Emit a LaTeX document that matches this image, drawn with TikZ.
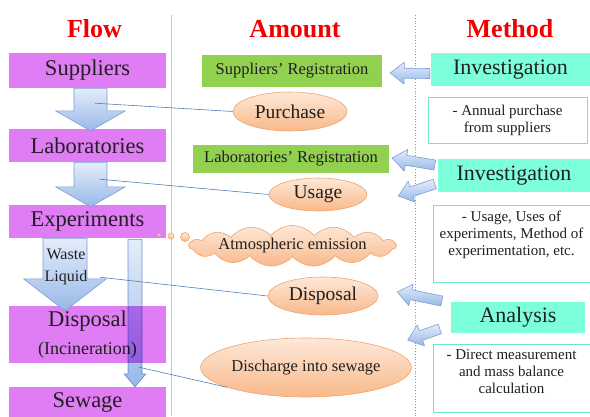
\documentclass[tikz,border=0pt]{standalone}
\usepackage{fontspec}
\IfFontExistsTF{LiberationSerif-Regular.ttf}
  {\setmainfont{LiberationSerif}[Extension=.ttf, UprightFont=*-Regular, BoldFont=*-Bold, ItalicFont=*-Italic]}
  {\setmainfont{DejaVu Serif}}
\usetikzlibrary{calc,positioning,shapes.geometric,shapes.symbols}
\definecolor{fwFlow}{HTML}{E07CF4}
\definecolor{fwReg}{HTML}{92D050}
\definecolor{fwMethod}{HTML}{7DFFDC}
\definecolor{fwDescLine}{HTML}{6EE8C4}
\definecolor{fwOvalTop}{HTML}{FDE8D8}
\definecolor{fwOvalBot}{HTML}{F8B98A}
\definecolor{fwOvalLine}{HTML}{F0A46C}
\definecolor{fwArrTop}{HTML}{E4EDFA}
\definecolor{fwArrBot}{HTML}{98B8E8}
\definecolor{fwArrLine}{HTML}{7C9ED2}
\definecolor{fwLink}{HTML}{4F7FB8}
\definecolor{fwTitle}{HTML}{F00000}
\definecolor{fwRule}{HTML}{BCC8D8}
\definecolor{fwText}{HTML}{202020}
\newcommand\fsTitle{\fontsize{26}{28}\selectfont\bfseries}
\newcommand\fsFlow{\fontsize{22.5}{24}\selectfont}
\newcommand\fsSub{\fontsize{18}{20}\selectfont}
\newcommand\fsReg{\fontsize{16.5}{18}\selectfont}
\newcommand\fsOval{\fontsize{19.5}{21}\selectfont}
\newcommand\fsMethod{\fontsize{22}{24}\selectfont}
\newcommand\fsDesc{\fontsize{15}{17}\selectfont}
\newcommand\fsWaste{\fontsize{16}{22}\selectfont}
\tikzset{
  coltitle/.style={anchor=base, font=\fsTitle, text=fwTitle, inner sep=0pt},
  colrule/.style={draw=fwRule, line width=0.8pt},
  fwnode/.style={rectangle, inner sep=0pt, align=center, text=fwText},
  flowbox/.style={fwnode, fill=fwFlow, minimum width=157pt, minimum height=33pt, font=\fsFlow},
  regbox/.style={fwnode, fill=fwReg, font=\fsReg},
  methodbox/.style={fwnode, fill=fwMethod, minimum height=33pt, font=\fsMethod},
  descbox/.style={fwnode, draw=fwDescLine, fill=white, line width=0.8pt, font=\fsDesc},
  amountoval/.style={ellipse, inner sep=0pt, draw=fwOvalLine, line width=0.6pt,
    top color=fwOvalTop, bottom color=fwOvalBot, text=fwText, font=\fsOval},
  amountcloud/.style={amountoval, cloud, cloud puffs=15, cloud puff arc=100,
    cloud ignores aspect, minimum width=206pt, minimum height=41pt, font=\fsReg},
  blockarrow/.style={draw=fwArrLine, line width=0.6pt, line join=round,
    top color=fwArrTop, bottom color=fwArrBot},
  linkline/.style={draw=fwLink, line width=0.6pt},
  arrowtext/.style={fwnode, font=\fsWaste}
}
\newcommand\bkarrow[6][]{%
  \coordinate (bk-h) at ($(#3)!#6!(#2)$);
  \draw[blockarrow,#1] ($(#2)!#4!90:(#3)$) -- ($(bk-h)!#4!90:(#3)$)
    -- ($(bk-h)!#5!90:(#3)$) -- (#3) -- ($(bk-h)!#5!-90:(#3)$)
    -- ($(bk-h)!#4!-90:(#3)$) -- ($(#2)!#4!-90:(#3)$) -- cycle;}
\begin{document}
\begin{tikzpicture}[x=1pt,y=-1pt]
  \useasboundingbox (0,0) rectangle (590,416);
  \node[coltitle] (tflow) at (94.5,37) {Flow};
  \node[coltitle] (tamount) at (295,37) {Amount};
  \node[coltitle] (tmethod) at (510,37) {Method};
  \draw[colrule] (171,15) -- (171,416);
  \draw[colrule, draw=black!40, dotted] (415,15) -- (415,416);

  \node[flowbox, minimum height=35pt] (sup) at (87.5,70.5) {Suppliers};
  \node[flowbox] (lab) at (87.5,145.5) {Laboratories};
  \node[flowbox] (exp) at (87.5,221.5) {Experiments};
  \node[flowbox, minimum height=57pt] (disp) at (87.5,334.5) {Disposal\\[4pt]{\fsSub(Incineration)}};
  \node[flowbox, minimum height=31pt] (sew) at (87.5,402.5) {Sewage};

  \node[regbox, minimum width=180pt, minimum height=32pt] (sreg) at (292,71) {Suppliers’ Registration};
  \node[regbox, minimum width=196pt, minimum height=28pt] (lreg) at (291,159) {Laboratories’ Registration};

  \node[methodbox, minimum width=159pt] (inv1) at (510.5,69.5) {Investigation};
  \node[descbox, minimum width=159pt, minimum height=46pt] (inv1d) at (507.5,120) {- Annual purchase\\from suppliers};
  \node[methodbox, minimum width=152pt] (inv2) at (514,175.5) {Investigation};
  \node[descbox, minimum width=157pt, minimum height=77pt] (inv2d) at (511.5,243.5) {- Usage, Uses of\\experiments, Method of\\experimentation, etc.\\[4pt]};
  \node[methodbox, minimum width=134pt, minimum height=31pt] (ana) at (518,317.5) {Analysis};
  \node[descbox, minimum width=157pt, minimum height=68pt] (anad) at (511.5,378) {- Direct measurement\\and mass balance\\calculation\\[-4pt]};

  \coordinate (a1s) at ($(sup.south)+(3,0)$);
  \coordinate (a1t) at ($(lab.north)+(3,2)$);
  \coordinate (a2s) at ($(lab.south)+(3,0)$);
  \coordinate (a2t) at ($(exp.north)+(3,2)$);
  \coordinate (a3s) at ($(exp.south)+(-22.5,0)$);
  \coordinate (a3t) at ($(disp.north)+(-22.5,5)$);
  \coordinate (a4s) at ($(exp.south)+(47.5,1)$);
  \coordinate (a4t) at ($(sew.north)+(47.5,0)$);
  \bkarrow{a1s}{a1t}{16.5pt}{35pt}{20pt}
  \bkarrow{a2s}{a2t}{16.5pt}{35pt}{20pt}
  \bkarrow{a3s}{a3t}{22pt}{41.5pt}{32pt}
  \bkarrow[blend mode=multiply]{a4s}{a4t}{7pt}{11pt}{13pt}
  \node[arrowtext] (waste) at (66,267) {Waste\\Liquid};

  \node[amountoval, minimum width=114pt, minimum height=39pt] (pur) at (290,111.5) {Purchase};
  \node[amountoval, minimum width=98pt, minimum height=33pt] (use) at (318,194.5) {Usage};
  \node[amountcloud] (atm) at (292.5,246) {Atmospheric emission};
  \node[amountoval, minimum width=110pt, minimum height=38pt] (dsp) at (323,296) {Disposal};
  \node[amountoval, font=\fsReg, minimum width=186pt, minimum height=59pt] (dis) at (306,367.5) {Discharge into sewage};
  \foreach \x/\y/\r in {159/235/1.6, 171/236/3, 185/237/4.5}{
    \draw[amountoval] (\x,\y) circle[radius=\r pt];}

  \coordinate (l1) at ($(sup.south)+(7.5,15)$);
  \coordinate (l2) at ($(lab.south)+(12.5,17)$);
  \coordinate (l3) at ($(exp.south)+(12.5,39)$);
  \coordinate (l4) at ($(exp.south)+(51.5,129)$);
  \foreach \a/\b in {l1/pur.west, l2/use.west, l3/dsp.west, l4/dis.194}{
    \draw[linkline] (\a) -- (\b);}

  \coordinate (m1s) at ($(inv1.west)+(-1,4)$);
  \coordinate (m1t) at ($(sreg.east)+(8,2)$);
  \coordinate (m2s) at ($(inv2.west)+(-3,-10.5)$);
  \coordinate (m2t) at ($(lreg.east)+(3,-1)$);
  \coordinate (m3s) at ($(inv2.west)+(-3,8.5)$);
  \coordinate (m3t) at ($(use.east)+(31,1.5)$);
  \coordinate (m4s) at ($(ana.west)+(-9,-16.5)$);
  \coordinate (m4t) at ($(dsp.east)+(19,-4)$);
  \coordinate (m5s) at ($(ana.west)+(-11,11.5)$);
  \coordinate (m5t) at ($(dis.east)+(-4,-27.5)$);
  \foreach \a/\b in {m1s/m1t, m2s/m2t, m3s/m3t, m4s/m4t, m5s/m5t}{
    \bkarrow{\a}{\b}{5pt}{11pt}{14pt}}
\end{tikzpicture}
\end{document}
